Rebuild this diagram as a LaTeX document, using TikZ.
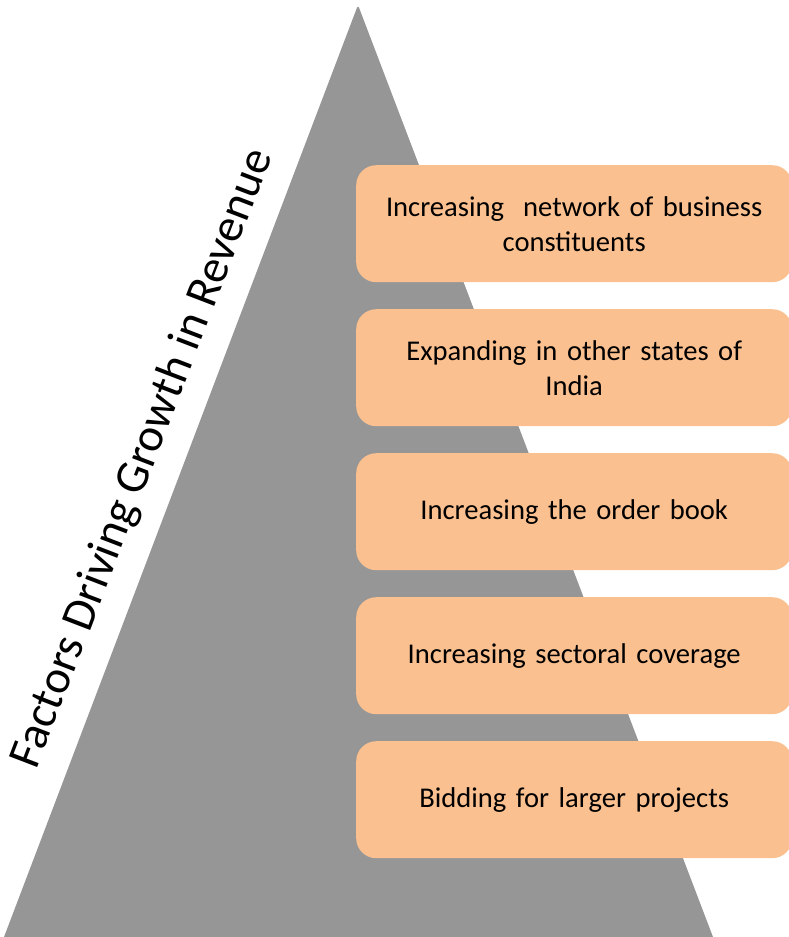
\documentclass[tikz,border=0pt]{standalone}
\usepackage{fontspec}
\setmainfont{Carlito}
\definecolor{trigray}{HTML}{969696}
\definecolor{boxorange}{HTML}{FAC090}
\begin{document}
\begin{tikzpicture}[x=1pt,y=-1pt,
  factor/.style={fill=boxorange, rounded corners=20pt, minimum width=436pt,
    minimum height=117pt, anchor=north west, inner sep=0pt, align=center,
    text width=420pt, font=\fontsize{28.6}{35}\selectfont},
  titletext/.style={rotate=69, font=\fontsize{47}{56}\selectfont, inner sep=0pt}]
\useasboundingbox (0,0) rectangle (788,937);
\fill[trigray] (4,937) [rounded corners=3pt] -- (358,5) [sharp corners] -- (713,937) -- cycle;
\node[factor] (f1) at (356,165) {Increasing\ \ network of business\\constituents};
\node[factor] (f2) at (356,309) {Expanding in other states of\\India};
\node[factor] (f3) at (356,453) {Increasing the order book};
\node[factor] (f4) at (356,597) {Increasing sectoral coverage};
\node[factor] (f5) at (356,741) {Bidding for larger projects};
\node[titletext] (title) at (143,459) {Factors Driving Growth in Revenue};
\end{tikzpicture}
\end{document}
